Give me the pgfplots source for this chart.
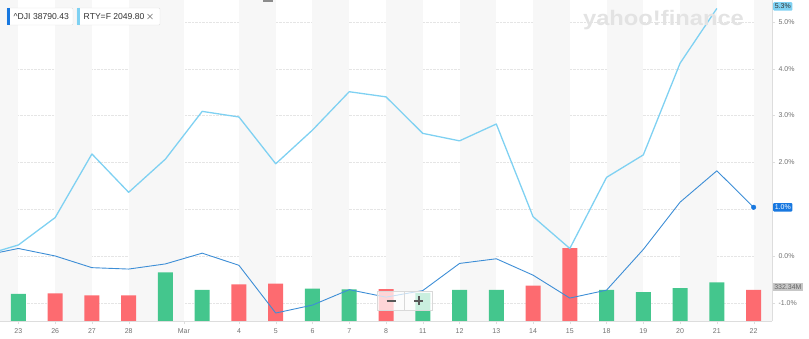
\documentclass[border=0pt]{standalone}
\usepackage{pgfplots}
\pgfplotsset{compat=1.18}
\usepackage{fontspec}
\setmainfont{Liberation Sans}
\definecolor{stripe}{HTML}{F7F7F7}
\definecolor{djiblue}{HTML}{3D8ED6}
\definecolor{djidot}{HTML}{1878E0}
\definecolor{rtyblue}{HTML}{7FD1F2}
\definecolor{upgreen}{HTML}{44C68D}
\definecolor{downred}{HTML}{FD6B70}
\definecolor{ticktext}{HTML}{707070}
\definecolor{axisgrey}{HTML}{DDDDDD}
\definecolor{legtext}{HTML}{333333}
\definecolor{wmark}{HTML}{E3E3E3}
\begin{document}
\begin{tikzpicture}[x=1pt,y=1pt]
\path[use as bounding box] (0,-17) rectangle (809,321);
% ---------- background: stripes and grid ----------
\begin{axis}[at={(0,0)}, anchor=south west, width=772pt, height=321pt, scale only axis,
  xmin=-0.5, xmax=20.5, ymin=-1.39, ymax=5.47,
  axis line style={draw=none}, xtick=\empty, ytick={-1,0,1,2,3,4,5}, yticklabels={},
  major tick length=0pt,
  ymajorgrids, grid style={densely dotted, draw=gray!20}, clip=true]
\fill[stripe] (axis cs:-0.5,-1.39) rectangle (axis cs:0,5.47);
\fill[stripe] (axis cs:1,-1.39) rectangle (axis cs:2,5.47);
\fill[stripe] (axis cs:3,-1.39) rectangle (axis cs:4.5,5.47);
\fill[stripe] (axis cs:6,-1.39) rectangle (axis cs:7,5.47);
\fill[stripe] (axis cs:8,-1.39) rectangle (axis cs:9,5.47);
\fill[stripe] (axis cs:10,-1.39) rectangle (axis cs:11,5.47);
\fill[stripe] (axis cs:12,-1.39) rectangle (axis cs:13,5.47);
\fill[stripe] (axis cs:14,-1.39) rectangle (axis cs:15,5.47);
\fill[stripe] (axis cs:16,-1.39) rectangle (axis cs:17,5.47);
\fill[stripe] (axis cs:18,-1.39) rectangle (axis cs:19,5.47);
\fill[stripe] (axis cs:20,-1.39) rectangle (axis cs:20.5,5.47);
\end{axis}
% ---------- volume axis ----------
\begin{axis}[at={(0,0)}, anchor=south west, width=772pt, height=321pt, scale only axis,
  xmin=-0.5, xmax=20.5, ymin=0, ymax=3435, axis lines=none, clip=true]
\addplot[ybar, bar width=15pt, bar shift=0pt, fill=upgreen, draw=none] coordinates {
 (0,289) (4,521) (5,332) (8,346) (9,339) (11,300) (12,332) (13,332)
 (16,332) (17,310) (18,353) (19,414)};
\addplot[ybar, bar width=15pt, bar shift=0pt, fill=downred, draw=none] coordinates {
 (1,296) (2,275) (3,275) (6,393) (7,399) (10,342) (14,378) (15,781) (20,332.34)};
\coordinate (vollab) at (axis cs:20.5,332.34);
\end{axis}
% ---------- percent axis ----------
\begin{axis}[at={(0,0)}, anchor=south west, width=772pt, height=321pt, scale only axis,
  xmin=-0.5, xmax=20.5, ymin=-1.39, ymax=5.47,
  axis x line=bottom, axis y line=right,
  axis line style={-, draw=axisgrey},
  xtick={0,1,2,3,4.5,6,7,8,9,10,11,12,13,14,15,16,17,18,19,20},
  xticklabels={23,26,27,28,Mar,4,5,6,7,8,11,12,13,14,15,18,19,20,21,22},
  ytick={-1,0,1,2,3,4,5},
  yticklabels={-1.0\%,0.0\%,,2.0\%,3.0\%,4.0\%,5.0\%},
  tick align=outside, major tick length=3pt, tick style={draw=axisgrey},
  ticklabel style={font=\fontsize{7}{8}\selectfont, text=ticktext},
  xticklabel style={yshift=-1pt},
  clip=true]
\addplot[rtyblue, line width=1.3pt, line join=round] coordinates {
 (-1,0) (0,0.235) (1,0.82) (2,2.18) (3,1.36) (4,2.07) (5,3.09) (6,2.97)
 (7,1.97) (8,2.69) (9,3.51) (10,3.40) (11,2.62) (12,2.46) (13,2.82)
 (14,0.84) (15,0.16) (16,1.68) (17,2.16) (18,4.12) (19,5.29)};
\addplot[djiblue, line width=0.9pt, line join=round] coordinates {
 (-1,0) (0,0.16) (1,0.0) (2,-0.25) (3,-0.28) (4,-0.17) (5,0.06) (6,-0.2)
 (7,-1.22) (8,-1.05) (9,-0.72) (10,-0.88) (11,-0.74) (12,-0.16) (13,-0.06)
 (14,-0.41) (15,-0.90) (16,-0.73) (17,0.14) (18,1.15) (19,1.82) (20,1.04)};
\addplot[only marks, mark=*, mark size=2.3pt, color=djidot] coordinates {(20,1.04)};
\coordinate (rtylab) at (axis cs:20.5,5.29);
\coordinate (djilab) at (axis cs:20.5,1.04);
\end{axis}
% ---------- value tags on the right ----------
\node[anchor=west, fill=rtyblue, text=legtext, inner xsep=1.6pt, inner ysep=1.8pt, font=\fontsize{7}{8}\selectfont, rounded corners=1pt] at ([xshift=1pt,yshift=2pt]rtylab) {5.3\%};
\node[anchor=west, fill=djidot, text=white, inner xsep=1.6pt, inner ysep=1.8pt, font=\fontsize{7}{8}\selectfont, rounded corners=1pt] at ([xshift=1pt]djilab) {1.0\%};
\node[anchor=west, fill=black!22, text=black!60, inner xsep=1.6pt, inner ysep=1.8pt, font=\fontsize{7}{8}\selectfont] at ([xshift=0.5pt,yshift=3pt]vollab) {332.34M};
% ---------- watermark ----------
\node[anchor=base, text=wmark, font=\fontsize{21}{21}\selectfont\bfseries, xscale=1.13, inner sep=0pt] at (663.5,295) {yahoo!finance};
% ---------- legend chips ----------
\draw[draw=black!12, fill=white, rounded corners=1pt] (7,296) rectangle (73,313);
\fill[djidot] (7,296) rectangle (10,313);
\node[anchor=west, inner sep=0pt, text=legtext, font=\fontsize{8.6}{9}\selectfont] at (13.5,304.5) {\^{}DJI 38790.43};
\draw[draw=black!12, fill=white, rounded corners=1pt] (77,296) rectangle (160,313);
\fill[rtyblue] (77,296) rectangle (80,313);
\node[anchor=west, inner sep=0pt, text=legtext, font=\fontsize{8.6}{9}\selectfont] at (83.5,304.5) {RTY=F 2049.80};
\draw[black!55, line width=0.6pt] (147.5,302) -- (152.5,307) (147.5,307) -- (152.5,302);
% ---------- small handle at top ----------
\fill[black!45] (263,318.5) rectangle (273,321);
% ---------- zoom buttons ----------
\draw[draw=black!15, fill=white, fill opacity=0.72] (377,11) rectangle (432,30);
\draw[black!15] (404.5,11) -- (404.5,30);
\draw[black!65, line width=2pt] (386.5,20.5) -- (395.5,20.5);
\draw[black!65, line width=2pt] (414,20.5) -- (423,20.5) (418.5,16) -- (418.5,25);
\end{tikzpicture}
\end{document}
